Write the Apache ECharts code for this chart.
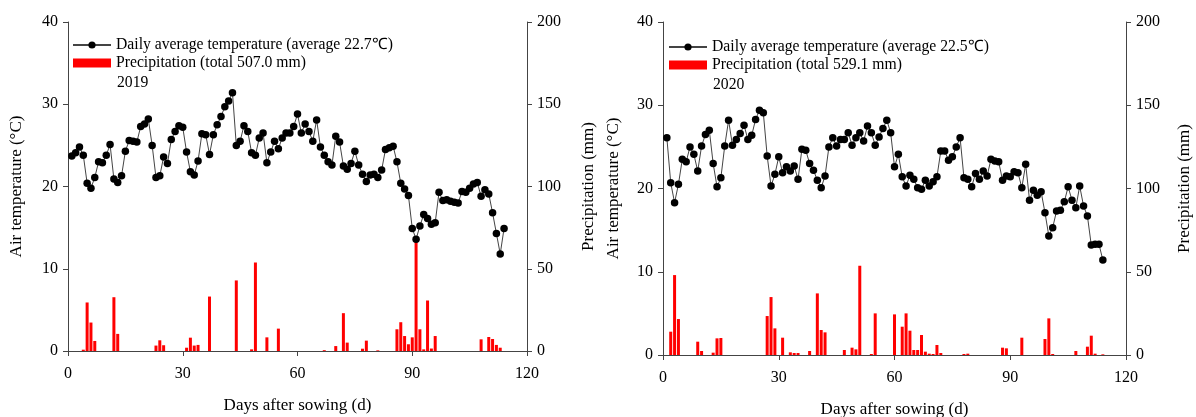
<!DOCTYPE html>
<html><head><meta charset="utf-8">
<script src="https://cdn.jsdelivr.net/npm/echarts@6/dist/echarts.min.js"></script>
<style>html,body{margin:0;padding:0;background:#fff}#c{width:1196px;height:417px}</style>
</head><body><div id="c"></div>
<script>
// ---- 2019 ----
const temp2019 = [23.7,24.1,24.8,23.8,20.4,19.8,21.1,23.0,22.9,23.8,25.1,20.9,20.5,21.3,24.3,25.6,25.5,25.4,27.3,27.6,
  28.2,25.0,21.1,21.3,23.6,22.8,25.7,26.7,27.4,27.2,24.2,21.8,21.4,23.1,26.4,26.3,23.9,26.3,27.5,28.5,
  29.7,30.4,31.4,25.0,25.5,27.4,26.7,24.1,23.8,25.9,26.5,22.9,24.2,25.5,24.6,25.9,26.5,26.5,27.3,28.8,
  26.5,27.6,26.7,25.5,28.1,24.8,23.8,23.0,22.6,26.1,25.4,22.5,22.1,22.8,24.3,22.6,21.5,20.6,21.4,21.5,
  21.1,22.0,24.5,24.7,24.9,23.0,20.4,19.7,18.9,14.9,13.6,15.2,16.6,16.1,15.4,15.6,19.3,18.3,18.4,18.2,
  18.1,18.0,19.4,19.3,19.8,20.3,20.5,18.8,19.6,19.1,16.8,14.3,11.8,14.9];
const rainDays2019 = [4,5,6,7,12,13,23,24,25,31,32,33,34,37,44,48,49,52,55,67,70,72,73,77,78,81,86,87,88,89,90,91,92,93,94,95,96,108,110,111,112,113];
const rain2019 = [0.8,29.5,17.3,6.1,32.7,10.4,3.3,6.5,3.5,2.0,8.1,3.3,3.7,33.1,42.9,1.0,53.8,8.3,13.6,0.5,3.0,23.0,5.1,1.4,6.3,0.4,13.2,17.5,9.1,4.1,8.3,67.7,13.2,1.0,30.7,1.5,9.1,7.1,8.5,7.3,3.7,2.0];
// ---- 2020 ----
const temp2020 = [26.1,20.7,18.3,20.5,23.5,23.2,25.0,24.1,22.1,25.1,26.5,27.0,23.0,20.2,21.3,25.1,28.2,25.2,25.9,26.6,
  27.6,25.9,26.4,28.3,29.4,29.1,23.9,20.3,21.7,23.8,21.9,22.6,22.1,22.7,21.1,24.7,24.6,23.0,22.2,21.0,
  20.1,21.5,25.0,26.1,25.1,25.9,25.9,26.7,25.2,26.1,26.7,25.7,27.5,26.7,25.2,26.2,27.2,28.2,26.7,22.6,
  24.1,21.4,20.3,21.6,21.1,20.1,19.9,21.0,20.3,20.8,21.4,24.5,24.5,23.4,23.8,25.0,26.1,21.3,21.1,20.2,
  21.8,21.1,22.1,21.5,23.5,23.3,23.2,21.0,21.5,21.4,22.0,21.9,20.1,22.9,18.6,19.8,19.2,19.6,17.1,14.3,
  15.3,17.3,17.4,18.4,20.2,18.6,17.7,20.3,17.9,16.7,13.2,13.3,13.3,11.4];
const rainDays2020 = [2,3,4,9,10,13,14,15,27,28,29,31,33,34,35,38,40,41,42,47,49,50,51,54,55,60,62,63,64,65,66,67,68,69,70,71,72,78,79,88,89,93,99,100,101,107,110,111,112,114];
const rain2020 = [14.0,48.0,21.6,8.0,2.4,1.4,10.0,10.2,23.4,34.8,16.0,10.4,1.6,1.2,1.2,2.4,37.0,15.0,13.6,3.0,4.4,3.4,53.6,0.6,25.0,24.4,17.0,25.0,14.6,3.0,3.0,12.0,2.0,0.8,0.6,6.0,1.2,0.6,0.8,4.4,4.0,10.4,9.6,22.0,0.6,2.4,5.0,11.6,0.8,0.4];
// ---- ticks / labels ----
const xTicks = [0,30,60,90,120];
const tempTicks = [0,10,20,30,40];
const rainTicks = [0,50,100,150,200];
const tempNames = ['Daily average temperature (average 22.7\u2103)','Daily average temperature (average 22.5\u2103)'];
const rainNames = ['Precipitation (total 507.0 mm)','Precipitation (total 529.1 mm)'];
const years = ['2019','2020'];

const FONT = '"Liberation Serif","Times New Roman",serif';
const axisCol = '#444';
const tempsAll = [temp2019, temp2020];
const rainDaysAll = [rainDays2019, rainDays2020];
const rainAll = [rain2019, rain2020];
const grids = [
  {left:68, top:22, width:459, height:329, outerBoundsMode:'none', containLabel:false},
  {left:663, top:22, width:463, height:333, outerBoundsMode:'none', containLabel:false}
];
const yNameGapL = [43, 41], yNameGapR = [53, 50];
const step = (arr)=>arr[1]-arr[0];

const option = {
  animation:false,
  backgroundColor:'#fff',
  textStyle:{fontFamily:FONT},
  grid: grids,
  title: years.map((y,i)=>({text:y, left: i===0?117:713, top: i===0?75:77, padding:0,
    textStyle:{fontFamily:FONT, fontSize:15.7, fontWeight:'normal', color:'#000'}})),
  legend: [0,1].map(i=>({
    data:[{name:tempNames[i]}, {name:rainNames[i], icon:'rect'}], orient:'vertical', left: i===0?72:668, top: i===0?37:39,
    itemWidth:38, itemHeight:9, itemGap:2, padding:0,
    textStyle:{fontFamily:FONT, fontSize:15.7, color:'#000'}
  })),
  xAxis: [0,1].map(i=>({
    type:'value', gridIndex:i, min:xTicks[0], max:xTicks[xTicks.length-1], interval:step(xTicks),
    name:'Days after sowing (d)', nameLocation:'middle', nameGap:46,
    nameTextStyle:{fontFamily:FONT, fontSize:17, color:'#000'},
    axisLine:{show:true, onZero:false, lineStyle:{color:axisCol, width:1}},
    axisTick:{show:true, length:5, lineStyle:{color:axisCol}},
    axisLabel:{fontFamily:FONT, fontSize:16, color:'#000', margin:15},
    splitLine:{show:false}
  })),
  yAxis: [].concat(...[0,1].map(i=>[
    {type:'value', gridIndex:i, min:tempTicks[0], max:tempTicks[tempTicks.length-1], interval:step(tempTicks), position:'left',
     name:'Air temperature (\u00B0C)', nameLocation:'middle', nameGap:yNameGapL[i], nameRotate:90,
     nameTextStyle:{fontFamily:FONT, fontSize:17, color:'#000'},
     axisLine:{show:true, lineStyle:{color:axisCol}}, axisTick:{show:true, length:5, lineStyle:{color:axisCol}},
     axisLabel:{fontFamily:FONT, fontSize:16, color:'#000', margin:10}, splitLine:{show:false}},
    {type:'value', gridIndex:i, min:rainTicks[0], max:rainTicks[rainTicks.length-1], interval:step(rainTicks), position:'right',
     name:'Precipitation (mm)', nameLocation:'middle', nameGap:yNameGapR[i], nameRotate:90,
     nameTextStyle:{fontFamily:FONT, fontSize:17, color:'#000'},
     axisLine:{show:true, lineStyle:{color:axisCol}}, axisTick:{show:true, length:5, lineStyle:{color:axisCol}},
     axisLabel:{fontFamily:FONT, fontSize:16, color:'#000', margin:10}, splitLine:{show:false}}
  ])),
  series: [].concat(...[0,1].map(i=>[
    {type:'bar', name:rainNames[i], xAxisIndex:i, yAxisIndex:2*i+1, barWidth:3,
     itemStyle:{color:'#ff0000'},
     data: rainDaysAll[i].map((d,k)=>[d, rainAll[i][k]])},
    {type:'line', name:tempNames[i], xAxisIndex:i, yAxisIndex:2*i, symbol:'circle', symbolSize:7.5,
     lineStyle:{color:'#444', width:1}, itemStyle:{color:'#000'},
     data: tempsAll[i].map((v,k)=>[k+1, v]), z:3}
  ]))
};
const chart = echarts.init(document.getElementById('c'), null, {renderer:'canvas'});
chart.setOption(option);
</script></body></html>
